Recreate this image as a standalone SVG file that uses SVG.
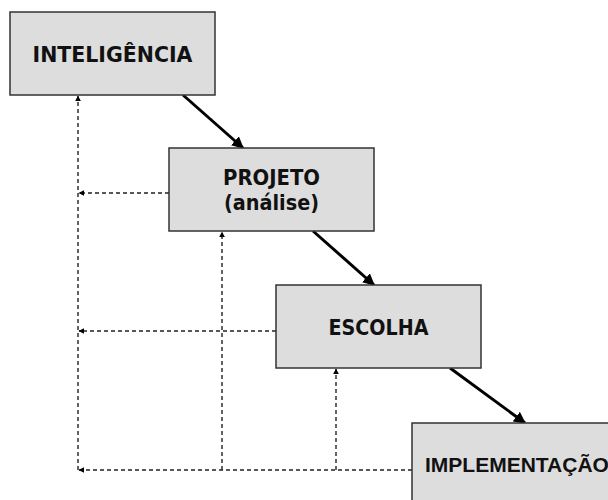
<svg xmlns="http://www.w3.org/2000/svg" width="608" height="500" viewBox="0 0 608 500">
<style>
.box{fill:#dddddd;stroke:#333;stroke-width:1.5}
.t{font-family:"DejaVu Sans","Verdana",sans-serif;font-weight:bold;font-size:20.5px;fill:#111;text-anchor:middle}
.t2{font-family:"Liberation Sans","Arial",sans-serif;font-weight:bold;font-size:21px;fill:#111}
.solid{stroke:#000;stroke-width:3;fill:none;marker-end:url(#ah)}
.dashA{stroke:#222;stroke-width:1.4;fill:none;stroke-dasharray:4 3;marker-end:url(#dh)}
</style>
<defs>
<marker id="ah" viewBox="0 0 10 10" refX="9" refY="5" markerWidth="4" markerHeight="4" orient="auto" markerUnits="strokeWidth">
<path d="M0,0 L10,5 L0,10 z" fill="#000"/>
</marker>
<marker id="dh" viewBox="0 0 10 10" refX="9" refY="5" markerWidth="6" markerHeight="6" orient="auto" markerUnits="userSpaceOnUse">
<path d="M0,0 L10,5 L0,10 z" fill="#000"/>
</marker>
</defs>
<g id="connectors">
<line class="solid" x1="183" y1="95" x2="243" y2="148"/>
<line class="solid" x1="313" y1="231" x2="374" y2="285"/>
<line class="solid" x1="450" y1="368" x2="525" y2="423"/>
<line class="dashA" x1="78" y1="470" x2="78" y2="96"/>
<line class="dashA" x1="222" y1="470" x2="222" y2="232"/>
<line class="dashA" x1="336" y1="470" x2="336" y2="369"/>
<line class="dashA" x1="169" y1="193" x2="79" y2="193"/>
<line class="dashA" x1="276" y1="331" x2="79" y2="331"/>
<line class="dashA" x1="412" y1="470" x2="79" y2="470"/>
</g>
<g id="inteligencia">
<rect class="box" x="10" y="12" width="205" height="83"/>
<text class="t" x="112.5" y="62" textLength="160" lengthAdjust="spacingAndGlyphs">INTELIGÊNCIA</text>
</g>
<g id="projeto">
<rect class="box" x="169" y="148" width="205" height="83"/>
<text class="t" x="271.5" y="185" textLength="97" lengthAdjust="spacingAndGlyphs">PROJETO</text>
<text class="t" x="271.5" y="210" textLength="95" lengthAdjust="spacingAndGlyphs">(análise)</text>
</g>
<g id="escolha">
<rect class="box" x="276" y="285" width="205" height="83"/>
<text class="t" x="378.5" y="335" textLength="100" lengthAdjust="spacingAndGlyphs">ESCOLHA</text>
</g>
<g id="implementacao">
<rect class="box" x="412" y="423" width="205" height="83"/>
<text class="t2" x="425" y="472">IMPLEMENTAÇÃO</text>
</g>
</svg>
